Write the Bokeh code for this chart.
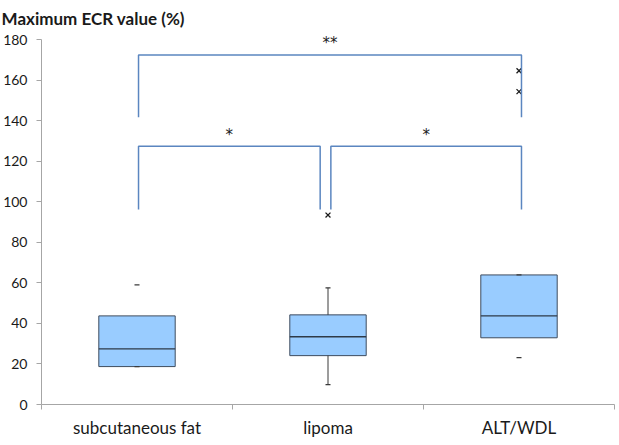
from bokeh.plotting import figure
from bokeh.models import ColumnDataSource, FixedTicker, Range1d, Label
from bokeh.embed import file_html
from bokeh.resources import INLINE

# Maximum ECR value (%) by tissue group
categories = ["subcutaneous fat", "lipoma", "ALT/WDL"]
q1 = [18.7, 24.1, 32.9]
median = [27.4, 33.4, 43.7]
q3 = [43.7, 44.2, 63.9]
min_vals = [18.7, 9.8, 23.1]
max_vals = [59.0, 57.5, 63.9]
outlier_group = ["lipoma", "ALT/WDL", "ALT/WDL"]
outlier_vals = [93.4, 154.3, 164.6]
y_ticks = [0, 20, 40, 60, 80, 100, 120, 140, 160, 180]

# significance brackets: (left group, right group, bar level, leg end, label)
sig_pairs = [("subcutaneous fat", "ALT/WDL", 172.3, 141.7, "**"),
             ("subcutaneous fat", "lipoma", 127.3, 96.2, "*"),
             ("lipoma", "ALT/WDL", 127.3, 96.2, "*")]

FONT = "Lato"
center = {c: i + 0.5 for i, c in enumerate(categories)}
half_w = 0.2

p = figure(width=619, height=445, output_backend="svg", toolbar_location=None,
           x_range=Range1d(0, 3), y_range=Range1d(0, 180),
           min_border_left=41, min_border_right=5, min_border_top=37,
           min_border_bottom=41)
p.outline_line_color = None
p.xgrid.grid_line_color = None
p.ygrid.grid_line_color = None
p.background_fill_color = "white"
p.border_fill_color = "white"

# boxes
xs = [center[c] for c in categories]
box_src = ColumnDataSource(dict(left=[x - half_w for x in xs], right=[x + half_w for x in xs],
                                q1=q1, q3=q3, med=median))
p.quad(left="left", right="right", bottom="q1", top="q3", source=box_src,
       fill_color="#99CCFF", line_color="#3E4C5E", line_width=1)
p.segment(x0="left", x1="right", y0="med", y1="med", source=box_src,
          line_color="#2E3A48", line_width=1.3)

# whiskers for the lipoma group
wi = categories.index("lipoma")
p.segment(x0=[xs[wi], xs[wi]], x1=[xs[wi], xs[wi]],
          y0=[q3[wi], q1[wi]], y1=[max_vals[wi], min_vals[wi]],
          line_color="#3A3A3A", line_width=1)

# min / max marks
p.scatter(x=xs + xs, y=min_vals + max_vals, marker="dash", size=5,
          line_color="#3A3A3A", line_width=1.2)

# outliers
p.scatter(x=[center[g] for g in outlier_group], y=outlier_vals, marker="x",
          size=7, line_color="#1A1A1A", line_width=1.3)

# significance brackets
leg_offset = {("subcutaneous fat", "ALT/WDL"): (0.008, 0.013),
              ("subcutaneous fat", "lipoma"): (0.008, -0.041),
              ("lipoma", "ALT/WDL"): (0.015, 0.013)}
bx, by = [], []
sig_labels = []
for a, b, level, leg, label in sig_pairs:
    da, db = leg_offset[(a, b)]
    xa, xb = center[a] + da, center[b] + db
    bx.append([xa, xa, xb, xb])
    by.append([leg, level, level, leg])
    sig_labels.append(Label(x=(xa + xb) / 2, y=level + 5.8, text=label, text_align="center",
                            text_baseline="alphabetic", text_font="DejaVu Sans",
                            text_font_size="15px", text_line_height=0.5,
                            text_color="#1A1A1A"))
p.multi_line(xs=bx, ys=by, line_color="#5B86C0", line_width=1.5)
# the top label reaches past the frame edge, so it lives in the upper panel
p.add_layout(sig_labels[0], "above")
for lab in sig_labels[1:]:
    p.add_layout(lab)

# y axis
p.yaxis.ticker = FixedTicker(ticks=y_ticks)
p.yaxis.axis_line_color = "#A6A6A6"
p.yaxis.major_tick_line_color = "#A6A6A6"
p.yaxis.major_tick_out = 5
p.yaxis.major_tick_in = 0
p.yaxis.minor_tick_line_color = None
p.yaxis.major_label_standoff = 9
p.yaxis.major_label_text_font = FONT
p.yaxis.major_label_text_font_size = "14px"
p.yaxis.major_label_text_color = "#1A1A1A"

# x axis: labels at category centres, ticks at category boundaries
p.xaxis.ticker = FixedTicker(ticks=xs, minor_ticks=[0, 1, 2, 3])
p.xaxis.major_label_overrides = {x: c for x, c in zip(xs, categories)}
p.xaxis.axis_line_color = "#A6A6A6"
p.xaxis.major_tick_line_color = None
p.xaxis.minor_tick_line_color = "#A6A6A6"
p.xaxis.minor_tick_out = 5
p.xaxis.minor_tick_in = 0
p.xaxis.major_label_standoff = 6
p.xaxis.major_label_text_font = FONT
p.xaxis.major_label_text_font_size = "17px"
p.xaxis.major_label_text_color = "#1A1A1A"

# y-axis caption above the plot, at the left edge
caption = Label(x=-0.209, y=190.2, text="Maximum ECR value (%)", text_align="left",
                text_baseline="alphabetic", text_font=FONT, text_font_size="17px",
                text_font_style="bold", text_line_height=0.5, text_color="#1A1A1A")
p.add_layout(caption, "above")

open("out.html", "w").write(file_html(p, INLINE))
